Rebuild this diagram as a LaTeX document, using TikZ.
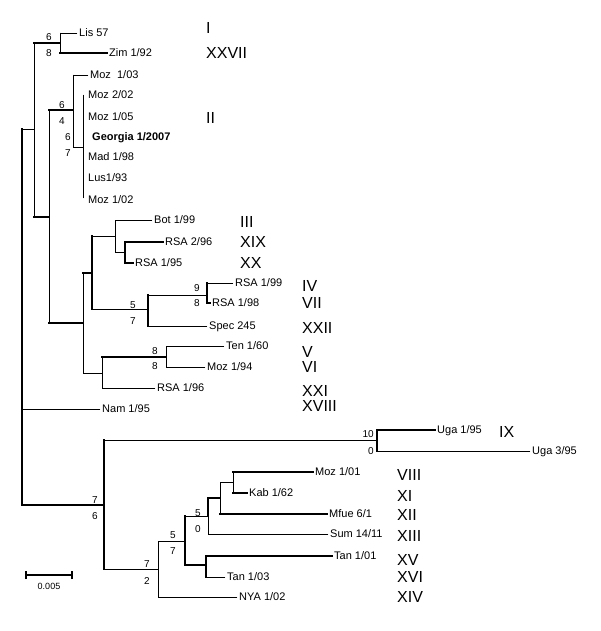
\documentclass[tikz,border=0pt]{standalone}
\usepackage{fontspec}
\setmainfont{Liberation Sans}
\begin{document}
\begin{tikzpicture}[x=1pt,y=-1pt,
  br/.style={line width=0.9pt, line cap=rect},
  tk/.style={line width=2.4pt, line cap=rect},
  leaf/.style={anchor=west, inner xsep=2pt, inner ysep=0pt, font=\fontsize{11}{12}\selectfont, text height=7.9pt, text depth=0.6pt},
  gen/.style={anchor=west, inner sep=0pt, font=\fontsize{16}{18}\selectfont, text height=11.5pt, text depth=0pt},
  bs/.style={inner sep=0pt, font=\fontsize{10}{11}\selectfont, text height=7.2pt, text depth=0pt},
  bsr/.style={bs, anchor=east}]
\useasboundingbox (0,0) rectangle (600,631);
% internal nodes
\coordinate (root) at (22,317);
\coordinate (nA) at (34,129);
\coordinate (nLZ) at (60,43);
\coordinate (nB) at (49,217);
\coordinate (nMoz) at (73,110);
\coordinate (nPoly) at (83,147);
\coordinate (nC) at (83,323);
\coordinate (nD) at (92,273);
\coordinate (nBot) at (115,236);
\coordinate (nRSA) at (125,252);
\coordinate (nSpec) at (148,309);
\coordinate (n99) at (207,295);
\coordinate (nE) at (102,373);
\coordinate (nTen) at (166,357);
\coordinate (nF) at (104,505);
\coordinate (nUga) at (377,440);
\coordinate (nG) at (158,569);
\coordinate (nH) at (185,541);
\coordinate (nI) at (208,516);
\coordinate (nJ) at (220,498);
\coordinate (nK) at (233,482);
\coordinate (nTan) at (206,565);
% leaves
\node[leaf] (lis) at (77,33) {Lis 57};
\node[leaf] (zim) at (107,53) {Zim 1/92};
\node[leaf] (moza) at (88,75) {Moz\ \ 1/03};
\node[leaf] (mozb) at (86,95) {Moz 2/02};
\node[leaf] (mozc) at (86,117) {Moz 1/05};
\node[leaf] (geo) at (90,137) {\bfseries Georgia 1/2007};
\node[leaf] (mad) at (86,157) {Mad 1/98};
\node[leaf] (lus) at (86,178) {Lus1/93};
\node[leaf] (mozd) at (86,200) {Moz 1/02};
\node[leaf] (bot) at (152,220) {Bot 1/99};
\node[leaf] (rsa296) at (163,242) {RSA 2/96};
\node[leaf] (rsa195) at (133,263) {RSA 1/95};
\node[leaf] (rsa199) at (233,283) {RSA 1/99};
\node[leaf] (rsa198) at (210,303) {RSA 1/98};
\node[leaf] (spec) at (207,326) {Spec 245};
\node[leaf] (ten) at (224,346) {Ten 1/60};
\node[leaf] (moz194) at (205,367) {Moz 1/94};
\node[leaf] (rsa196) at (155,388) {RSA 1/96};
\node[leaf] (nam) at (100,409) {Nam 1/95};
\node[leaf] (uga195) at (435,430) {Uga 1/95};
\node[leaf] (uga395) at (530,451) {Uga 3/95};
\node[leaf] (moz101) at (313,472) {Moz 1/01};
\node[leaf] (kab) at (247,493) {Kab 1/62};
\node[leaf] (mfue) at (327,514) {Mfue 6/1};
\node[leaf] (sum) at (328,534) {Sum 14/11};
\node[leaf] (tan101) at (332,556) {Tan 1/01};
\node[leaf] (tan103) at (225,577) {Tan 1/03};
\node[leaf] (nya) at (237,597) {NYA 1/02};
% verticals
\draw[tk] (nA -| root) -- (nF -| root);
\draw[br] (nLZ -| nA) -- (nB -| nA);
\draw[br] (lis.west -| nLZ) -- (zim.west -| nLZ);
\draw[br] (nMoz -| nB) -- (nC -| nB);
\draw[br] (moza.west -| nMoz) -- (nPoly -| nMoz);
\draw[br] ([yshift=0pt]mozb.west -| nPoly) -- ([yshift=2pt]mozd.west -| nPoly);
\draw[br] (nD -| nC) -- (nE -| nC);
\draw[tk] (nBot -| nD) -- (nSpec -| nD);
\draw[br] (bot.west -| nBot) -- (nRSA -| nBot);
\draw[tk] (rsa296.west -| nRSA) -- (rsa195.west -| nRSA);
\draw[tk] (n99 -| nSpec) -- (spec.west -| nSpec);
\draw[tk] (rsa199.west -| n99) -- (rsa198.west -| n99);
\draw[br] (nTen -| nE) -- (rsa196.west -| nE);
\draw[br] (ten.west -| nTen) -- (moz194.west -| nTen);
\draw[tk] (nUga -| nF) -- (nG -| nF);
\draw[tk] (uga195.west -| nUga) -- (uga395.west -| nUga);
\draw[br] (nH -| nG) -- (nya.west -| nG);
\draw[tk] (nI -| nH) -- (nTan -| nH);
\draw[tk] (nJ -| nI) -- (nI);
\draw[br] (nI) -- (sum.west -| nI);
\draw[br] (nK -| nJ) -- (mfue.west -| nJ);
\draw[br] (moz101.west -| nK) -- (kab.west -| nK);
\draw[tk] (tan101.west -| nTan) -- (tan103.west -| nTan);
% horizontals
\draw[br] (nA -| root) -- (nA);
\draw[br] (nam.west -| root) -- (nam.west);
\draw[tk] (nF -| root) -- (nF);
\draw[tk] (nLZ -| nA) -- (nLZ);
\draw[tk] (nB -| nA) -- (nB);
\draw[br] (lis.west -| nLZ) -- (lis.west);
\draw[tk] (zim.west -| nLZ) -- (zim.west);
\draw[tk] (nMoz -| nB) -- (nMoz);
\draw[tk] (nC -| nB) -- (nC);
\draw[br] (moza.west -| nMoz) -- (moza.west);
\draw[br] (nPoly -| nMoz) -- (nPoly);
\draw[tk] (nD -| nC) -- (nD);
\draw[br] (nE -| nC) -- (nE);
\draw[br] (nBot -| nD) -- (nBot);
\draw[br] (nSpec -| nD) -- (nSpec);
\draw[br] (bot.west -| nBot) -- (bot.west);
\draw[br] (nRSA -| nBot) -- (nRSA);
\draw[tk] (rsa296.west -| nRSA) -- (rsa296.west);
\draw[tk] (rsa195.west -| nRSA) -- (rsa195.west);
\draw[br] (n99 -| nSpec) -- (n99);
\draw[br] (spec.west -| nSpec) -- (spec.west);
\draw[br] (rsa199.west -| n99) -- (rsa199.west);
\draw[tk] (rsa198.west -| n99) -- (rsa198.west);
\draw[tk] (nTen -| nE) -- (nTen);
\draw[br] (rsa196.west -| nE) -- (rsa196.west);
\draw[br] (ten.west -| nTen) -- (ten.west);
\draw[br] (moz194.west -| nTen) -- (moz194.west);
\draw[br] (nUga -| nF) -- (nUga);
\draw[br] (nG -| nF) -- (nG);
\draw[tk] (uga195.west -| nUga) -- (uga195.west);
\draw[br] (uga395.west -| nUga) -- (uga395.west);
\draw[br] (nH -| nG) -- (nH);
\draw[br] (nya.west -| nG) -- (nya.west);
\draw[br] (nI -| nH) -- (nI);
\draw[tk] (nTan -| nH) -- (nTan);
\draw[tk] (nJ -| nI) -- (nJ);
\draw[br] (sum.west -| nI) -- (sum.west);
\draw[br] (nK -| nJ) -- (nK);
\draw[tk] (mfue.west -| nJ) -- (mfue.west);
\draw[tk] (moz101.west -| nK) -- (moz101.west);
\draw[tk] (kab.west -| nK) -- (kab.west);
\draw[tk] (tan101.west -| nTan) -- (tan101.west);
\draw[br] (tan103.west -| nTan) -- (tan103.west);
% bootstrap values
\node[bs] (b1a) at (49,37) {6};
\node[bs] (b1b) at (49,53) {8};
\node[bs] (b2a) at (62,105) {6};
\node[bs] (b2b) at (62,121) {4};
\node[bs] (b3a) at (68,137) {6};
\node[bs] (b3b) at (68,153) {7};
\node[bs] (b4a) at (133,305) {5};
\node[bs] (b4b) at (133,321) {7};
\node[bs] (b5a) at (197,288) {9};
\node[bs] (b5b) at (197,303) {8};
\node[bs] (b6a) at (155,351) {8};
\node[bs] (b6b) at (155,366) {8};
\node[bs] (b7a) at (95,500) {7};
\node[bs] (b7b) at (95,516) {6};
\node[bsr] (b8a) at (374,434) {10};
\node[bsr] (b8b) at (374,451) {0};
\node[bs] (b9a) at (147,564) {7};
\node[bs] (b9b) at (147,581) {2};
\node[bs] (b10a) at (173,535) {5};
\node[bs] (b10b) at (173,551) {7};
\node[bs] (b11a) at (198,513) {5};
\node[bs] (b11b) at (198,529) {0};
% genotypes
\node[gen] (gI) at (206,28) {I};
\node[gen] (gXXVII) at (206,53) {XXVII};
\node[gen] (gII) at (206,118) {II};
\node[gen] (gIII) at (240,222) {III};
\node[gen] (gXIX) at (240,242) {XIX};
\node[gen] (gXX) at (240,263) {XX};
\node[gen] (gIV) at (302,286) {IV};
\node[gen] (gVII) at (302,303) {VII};
\node[gen] (gXXII) at (302,328) {XXII};
\node[gen] (gV) at (302,352) {V};
\node[gen] (gVI) at (302,367) {VI};
\node[gen] (gXXI) at (302,391) {XXI};
\node[gen] (gXVIII) at (302,406) {XVIII};
\node[gen] (gIX) at (499,432) {IX};
\node[gen] (gVIII) at (397,475) {VIII};
\node[gen] (gXI) at (397,496) {XI};
\node[gen] (gXII) at (397,515) {XII};
\node[gen] (gXIII) at (397,536) {XIII};
\node[gen] (gXV) at (397,560) {XV};
\node[gen] (gXVI) at (397,577) {XVI};
\node[gen] (gXIV) at (397,597) {XIV};
% scale bar
\coordinate (sbL) at (26,575);
\coordinate (sbR) at (72,575);
\draw[line width=2pt] (sbL) -- (sbR);
\draw[line width=1.3pt] ([yshift=-4pt]sbL) -- ([yshift=4pt]sbL);
\draw[line width=1.3pt] ([yshift=-4pt]sbR) -- ([yshift=4pt]sbR);
\node[inner sep=0pt, font=\fontsize{9}{10}\selectfont] (sbt) at (49,586) {0.005};
\end{tikzpicture}
\end{document}
